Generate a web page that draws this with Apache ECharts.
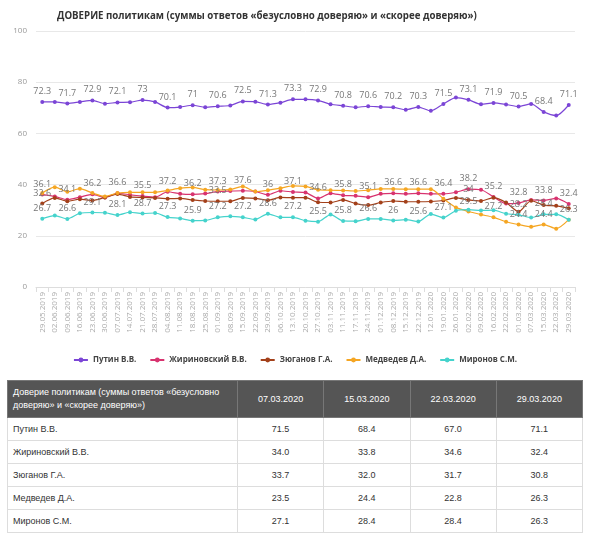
<!DOCTYPE html>
<html>
<head>
<meta charset="utf-8">
<script src="https://cdn.jsdelivr.net/npm/echarts@6/dist/echarts.min.js"></script>
<style>
  html, body { margin: 0; padding: 0; background: #fff; }
  #chart { width: 590px; height: 372px; }
  #tbl { position: absolute; left: 7px; top: 380px; width: 576px; border-collapse: collapse; table-layout: fixed;
         font-family: "Liberation Sans", sans-serif; font-size: 9px; color: #333; }
  #tbl th, #tbl td { padding: 0; box-sizing: border-box; }
  #tbl th { background: #555; color: #fff; font-weight: normal; height: 37px; border: 1px solid #777; }
  #tbl th:first-child { text-align: left; width: 230px; line-height: 13px; padding-left: 5px; padding-right: 8px; }
  #tbl td { height: 23px; line-height: 12px; border: 1px solid #ddd; text-align: center; }
  #tbl td:first-child { text-align: left; padding-left: 5px; }
</style>
</head>
<body>
<div id="chart"></div>
<table id="tbl"></table>
<script>
const categories = ['29.05.2019','02.06.2019','09.06.2019','16.06.2019','23.06.2019','30.06.2019','07.07.2019','14.07.2019','21.07.2019','28.07.2019','04.08.2019','11.08.2019','18.08.2019','25.08.2019','01.09.2019','08.09.2019','15.09.2019','22.09.2019','29.09.2019','06.10.2019','13.10.2019','20.10.2019','27.10.2019','03.11.2019','11.11.2019','17.11.2019','24.11.2019','01.12.2019','08.12.2019','15.12.2019','22.12.2019','12.01.2020','19.01.2020','26.01.2020','02.02.2020','09.02.2020','16.02.2020','22.02.2020','01.03.2020','07.03.2020','15.03.2020','22.03.2020','29.03.2020'];

const putin = [72.3,72.3,71.7,72.3,72.9,71.6,72.1,72.2,73.0,72.3,70.1,70.3,71.0,70.2,70.6,70.9,72.5,72.4,71.3,72.0,73.3,73.3,72.9,71.4,70.8,70.2,70.6,70.3,70.2,69.2,70.3,68.8,71.5,74.0,73.1,71.4,71.9,71.3,70.5,71.5,68.4,67.0,71.1];
const zhirinovsky = [36.1,35.4,34.1,35.1,36.2,35.0,36.6,36.0,35.5,35.1,37.2,36.4,36.2,36.5,37.3,37.5,37.6,37.3,36.0,37.6,37.1,36.9,34.6,36.6,35.8,35.6,35.1,36.4,36.6,36.4,36.6,36.4,36.4,37.0,38.2,38.0,35.2,32.6,32.8,34.0,33.8,34.6,32.4];
const zyuganov = [32.6,34.8,33.5,34.3,33.8,35.0,36.3,35.2,35.0,34.8,34.5,34.6,34.0,33.6,33.5,33.5,34.8,34.6,33.9,35.0,34.9,34.9,33.1,33.0,34.0,32.6,32.0,33.0,33.6,33.3,33.3,33.4,33.8,34.8,34.0,33.6,34.9,33.0,29.4,33.7,32.0,31.7,30.8];
const medvedev = [36.7,39.0,37.2,38.4,36.7,35.4,36.7,37.0,37.0,37.0,37.7,38.6,38.9,38.0,37.9,38.1,39.3,37.3,37.8,38.6,39.5,39.3,38.0,37.8,37.7,37.5,37.8,38.3,38.3,38.2,38.2,38.2,34.5,31.1,29.5,28.3,27.2,25.5,24.4,23.5,24.4,22.8,26.3];
const mironov = [26.7,27.9,26.6,28.8,29.1,29.0,28.1,29.2,28.7,28.9,27.3,26.8,25.9,26.0,27.2,27.6,27.2,26.4,28.6,27.2,27.2,25.9,25.5,28.3,25.8,25.7,26.6,26.6,26.0,26.3,25.6,28.5,27.1,29.8,30.2,29.9,30.0,28.6,28.2,27.1,28.4,28.4,26.3];

const seriesNames = ['Путин В.В.','Жириновский В.В.','Зюганов Г.А.','Медведев Д.А.','Миронов С.М.'];
const seriesData = [putin, zhirinovsky, zyuganov, medvedev, mironov];
const colors = ['#7b45d6','#d8336f','#a3401a','#f5a623','#45d3cc'];
const yTicks = [0, 20, 40, 60, 80, 100];

const titleText = 'ДОВЕРИЕ политикам (суммы ответов «безусловно доверяю» и «скорее доверяю»)';
const tableHeader = 'Доверие политикам (суммы ответов «безусловно доверяю» и «скорее доверяю»)';
const tableDates = ['07.03.2020','15.03.2020','22.03.2020','29.03.2020'];

const chart = echarts.init(document.getElementById('chart'));
chart.setOption({
  animation: false,
  color: colors,
  title: {
    text: titleText, left: 52, top: 6,
    textStyle: { fontFamily: 'Open Sans', fontSize: 9.7, fontWeight: 'bold', color: '#333' }
  },
  legend: {
    top: 351, left: 'center', itemGap: 13, itemWidth: 14, itemHeight: 6,
    textStyle: { fontFamily: 'Open Sans', fontSize: 8, fontWeight: 'bold', color: '#444' },
    data: seriesNames
  },
  grid: { left: 36, right: 15, top: 31, bottom: 85 },
  xAxis: {
    type: 'category', data: categories, boundaryGap: true,
    axisLine: { lineStyle: { color: '#ddd' } },
    axisTick: { show: true, length: 5, lineStyle: { color: '#ddd' } },
    axisLabel: { rotate: 90, interval: 0, fontFamily: 'Open Sans', fontSize: 8, color: '#aaa', margin: 5 }
  },
  yAxis: {
    type: 'value', min: yTicks[0], max: yTicks[yTicks.length - 1], interval: 20,
    axisLine: { show: false }, axisTick: { show: false },
    splitLine: { lineStyle: { color: '#e8e8e8' } },
    axisLabel: { fontFamily: 'Open Sans', fontSize: 8, color: '#999', margin: 9 }
  },
  series: seriesData.map((d, i) => ({
    name: seriesNames[i], type: 'line', data: d, smooth: 0.25,
    symbol: 'circle', symbolSize: 4,
    lineStyle: { width: 1.2 },
    label: { show: true, position: 'top', distance: 4, fontFamily: 'Open Sans', fontSize: 9, color: '#777' },
    labelLayout: { hideOverlap: true }
  }))
});

// table
const tbl = document.getElementById('tbl');
let html = '<tr><th>' + tableHeader + '</th>' + tableDates.map(d => '<th>' + d + '</th>').join('') + '</tr>';
seriesNames.forEach((n, i) => {
  const vals = seriesData[i].slice(seriesData[i].length - tableDates.length);
  html += '<tr><td>' + n + '</td>' + vals.map(v => '<td>' + v.toFixed(1) + '</td>').join('') + '</tr>';
});
tbl.innerHTML = html;
</script>
</body>
</html>
